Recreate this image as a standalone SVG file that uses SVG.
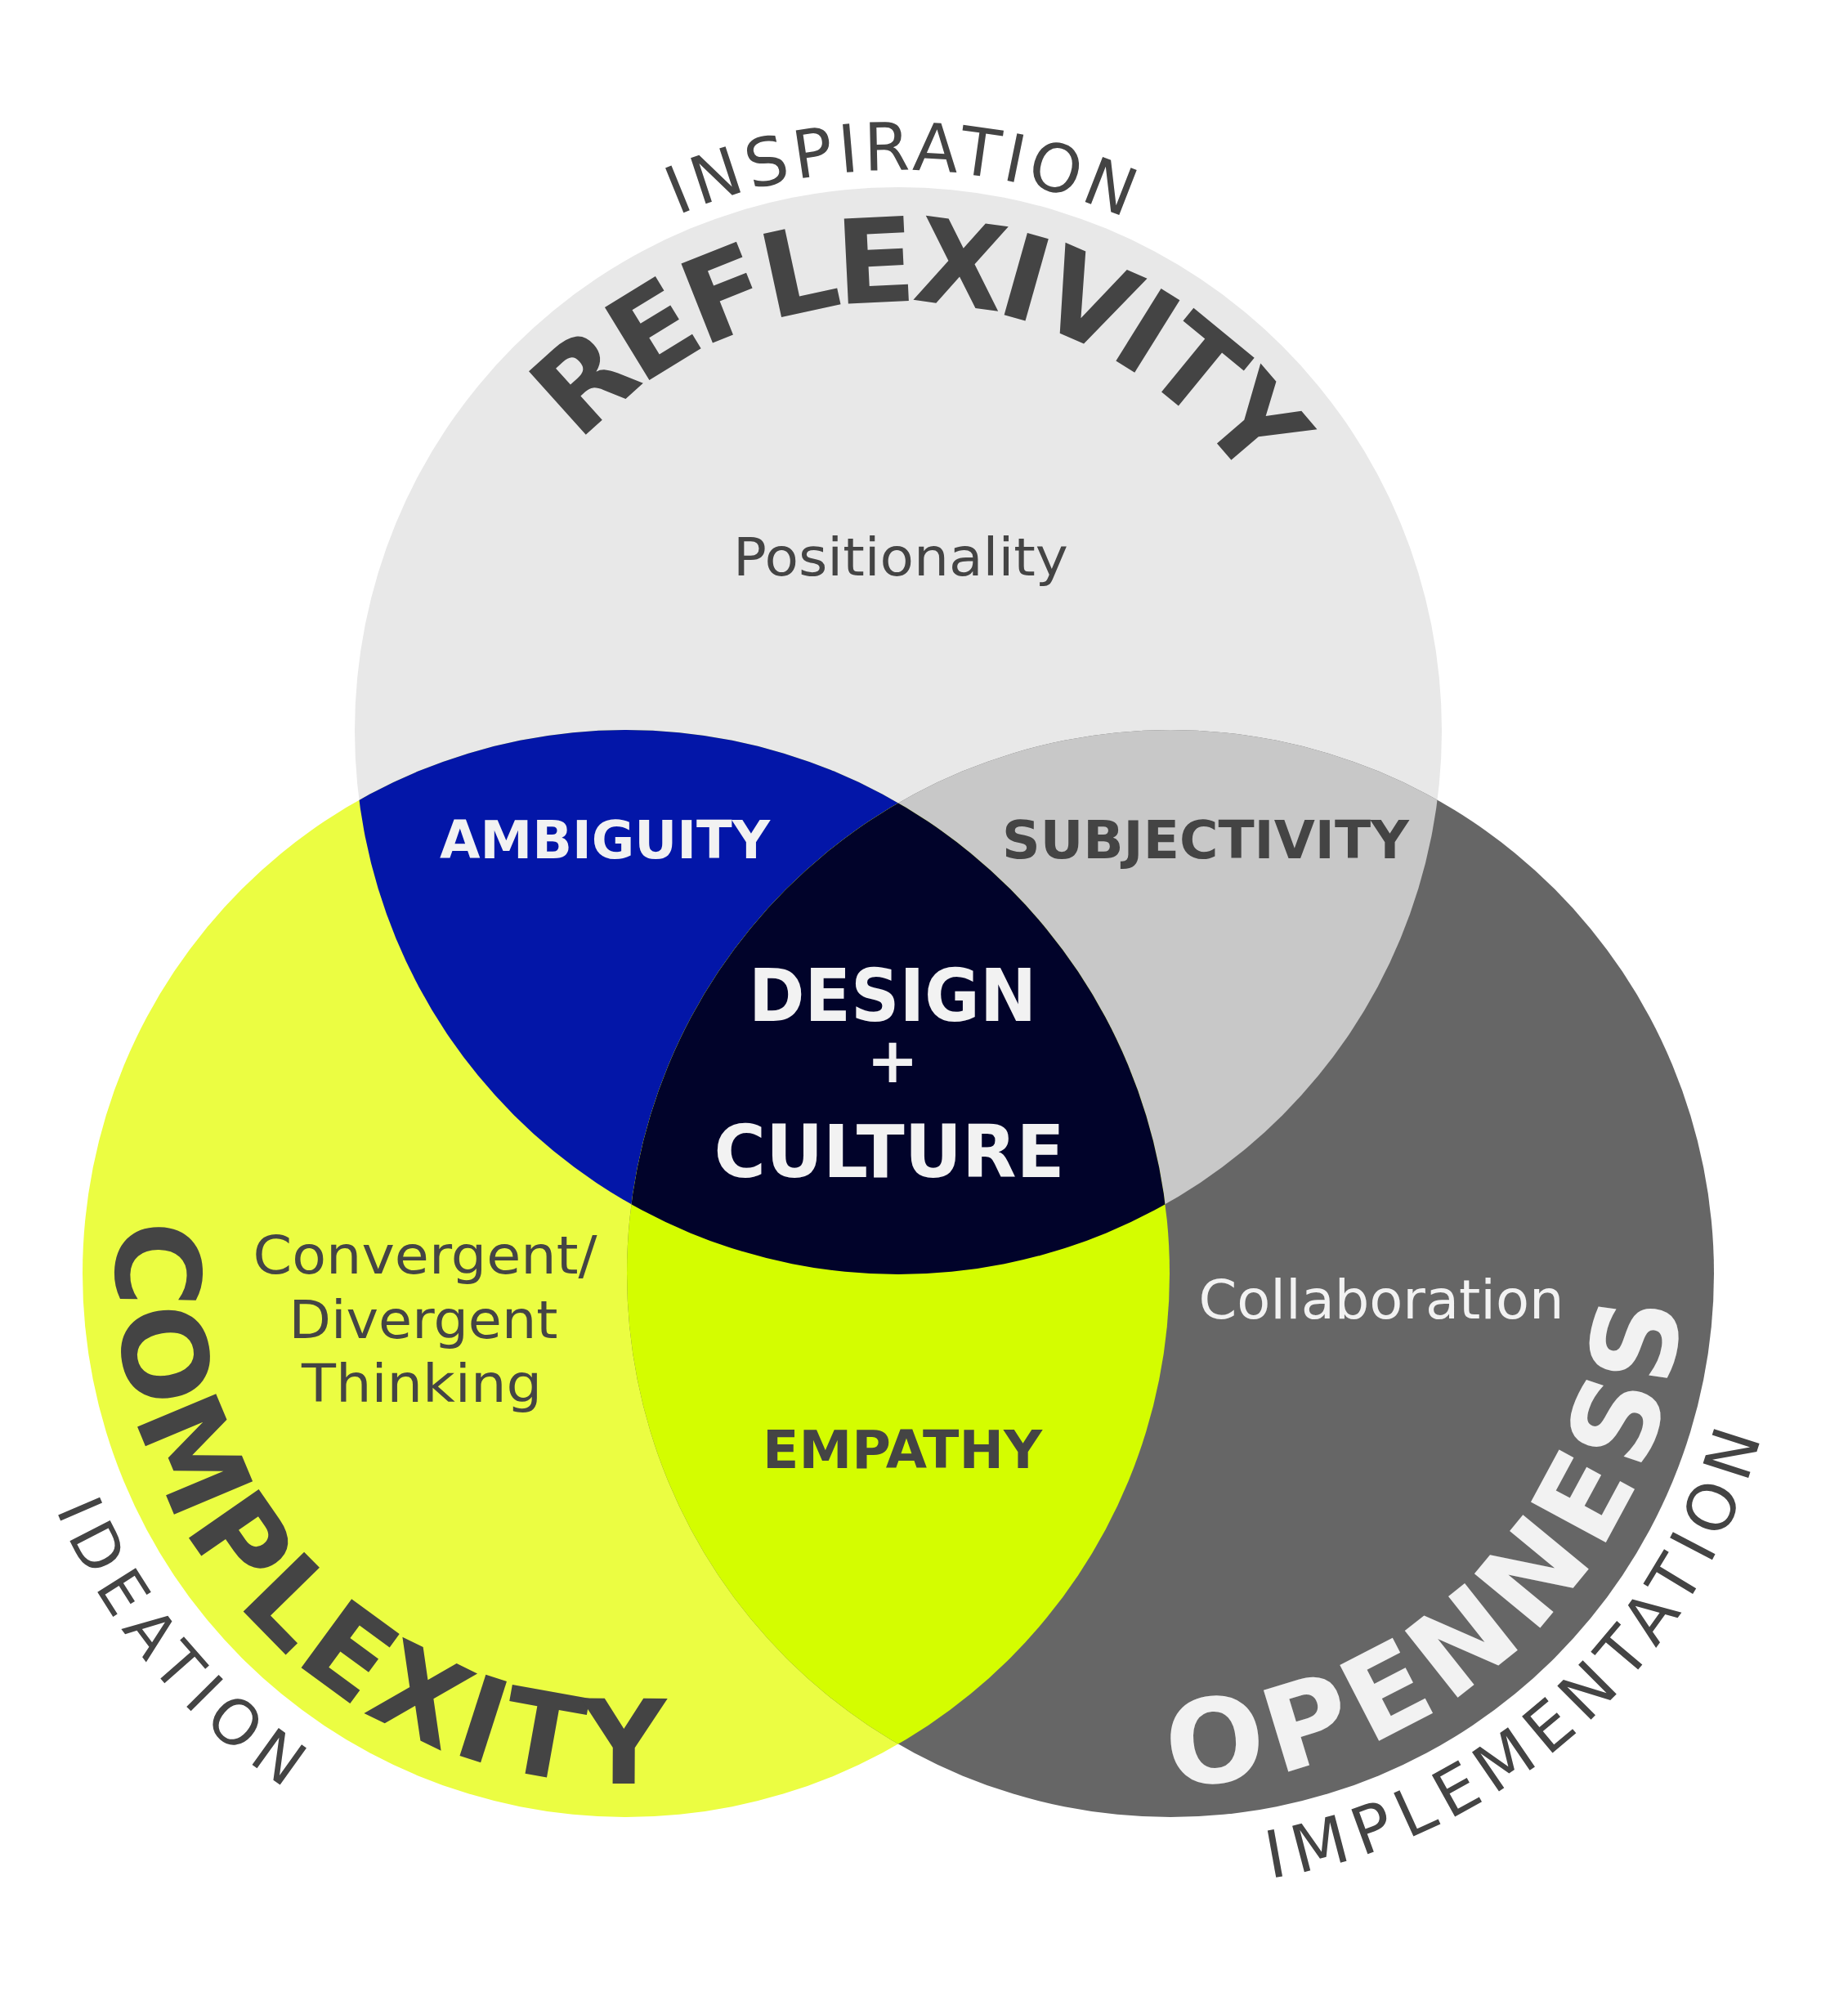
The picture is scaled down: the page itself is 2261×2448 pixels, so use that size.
<svg xmlns="http://www.w3.org/2000/svg" width="2261" height="2448" viewBox="0 0 2261 2448">
<defs>
<style>
.t{font-family:"DejaVu Sans","Liberation Sans",sans-serif;fill:#444444}
.b{font-weight:bold}
.w{fill:#f2f2f2}
.m{text-anchor:middle}
</style>
<clipPath id="cT"><circle cx="1099" cy="894" r="665"/></clipPath>
<clipPath id="cL"><circle cx="766" cy="1558" r="665"/></clipPath>
<clipPath id="cR"><circle cx="1432" cy="1558" r="665"/></clipPath>
<path id="pInsp" d="M413 894 A686 686 0 0 1 1785 894"/>
<path id="pRefl" d="M574 894 A525 525 0 0 1 1624 894"/>
<path id="pComp" d="M766 934 A624 624 0 0 0 766 2182 A624 624 0 0 0 1390 1558"/>
<path id="pIdea" d="M766 803 A755 755 0 0 0 766 2313 A755 755 0 0 0 1521 1558"/>
<path id="pOpen" d="M807 1558 A625 625 0 0 0 1432 2183 A625 625 0 0 0 1432 933"/>
<path id="pImpl" d="M682 1558 A750 750 0 0 0 1432 2308 A750 750 0 0 0 1432 808"/>
</defs>
<rect width="2261" height="2448" fill="#ffffff"/>

<g id="circle-reflexivity"><circle cx="1099" cy="894" r="665" fill="#e8e8e8"/></g>
<g id="circle-complexity"><circle cx="766" cy="1558" r="665" fill="#ebfd42"/></g>
<g id="circle-openness"><circle cx="1432" cy="1558" r="665" fill="#666666"/></g>
<g id="region-ambiguity" clip-path="url(#cL)"><circle cx="1099" cy="894" r="665" fill="#0316a8"/></g>
<g id="region-subjectivity" clip-path="url(#cR)"><circle cx="1099" cy="894" r="665" fill="#c8c8c8"/></g>
<g id="region-empathy" clip-path="url(#cR)"><circle cx="766" cy="1558" r="665" fill="#d4fd00"/></g>
<g id="region-core" clip-path="url(#cL)"><circle cx="1099" cy="894" r="665" fill="#01032a" clip-path="url(#cR)"/></g>

<g id="label-inspiration"><text class="t" font-size="81"><textPath href="#pInsp" startOffset="800" textLength="563" lengthAdjust="spacing">INSPIRATION</textPath></text></g>
<g id="label-reflexivity"><text class="t b" font-size="143"><textPath href="#pRefl" startOffset="385" textLength="944" lengthAdjust="spacing">REFLEXIVITY</textPath></text></g>
<g id="label-complexity"><text class="t b" font-size="143"><textPath href="#pComp" startOffset="915" textLength="1094" lengthAdjust="spacing">COMPLEXITY</textPath></text></g>
<g id="label-ideation"><text class="t" font-size="76"><textPath href="#pIdea" startOffset="1482" textLength="448" lengthAdjust="spacing">IDEATION</textPath></text></g>
<g id="label-openness"><text class="t b w" font-size="143"><textPath href="#pOpen" startOffset="980" textLength="946" lengthAdjust="spacing">OPENNESS</textPath></text></g>
<g id="label-implementation"><text class="t" font-size="80"><textPath href="#pImpl" startOffset="1300" textLength="853" lengthAdjust="spacing">IMPLEMENTATION</textPath></text></g>

<g id="label-positionality"><text class="t m" x="1102" y="704" font-size="64" textLength="410" lengthAdjust="spacingAndGlyphs">Positionality</text></g>
<g id="label-ambiguity"><text class="t b w m" x="740" y="1050" font-size="64" textLength="404" lengthAdjust="spacingAndGlyphs">AMBIGUITY</text></g>
<g id="label-subjectivity"><text class="t b m" x="1475" y="1050" font-size="64" textLength="498" lengthAdjust="spacingAndGlyphs">SUBJECTIVITY</text></g>
<g id="label-design-culture">
<text class="t b w m" x="1092" y="1249" font-size="89" textLength="352" lengthAdjust="spacingAndGlyphs">DESIGN</text>
<text class="t b w m" x="1092" y="1324" font-size="76">+</text>
<text class="t b w m" x="1088" y="1440" font-size="89" textLength="429" lengthAdjust="spacingAndGlyphs">CULTURE</text>
</g>
<g id="label-empathy"><text class="t b m" x="1104" y="1796" font-size="64" textLength="342" lengthAdjust="spacingAndGlyphs">EMPATHY</text></g>
<g id="label-thinking">
<text class="t m" x="520" y="1558" font-size="64" textLength="421" lengthAdjust="spacingAndGlyphs">Convergent/</text>
<text class="t m" x="518" y="1637" font-size="64" textLength="329" lengthAdjust="spacingAndGlyphs">Divergent</text>
<text class="t m" x="516" y="1715" font-size="64" textLength="294" lengthAdjust="spacingAndGlyphs">Thinking</text>
</g>
<g id="label-collaboration"><text class="t w m" x="1690" y="1613" font-size="66" textLength="447" lengthAdjust="spacingAndGlyphs">Collaboration</text></g>
</svg>
